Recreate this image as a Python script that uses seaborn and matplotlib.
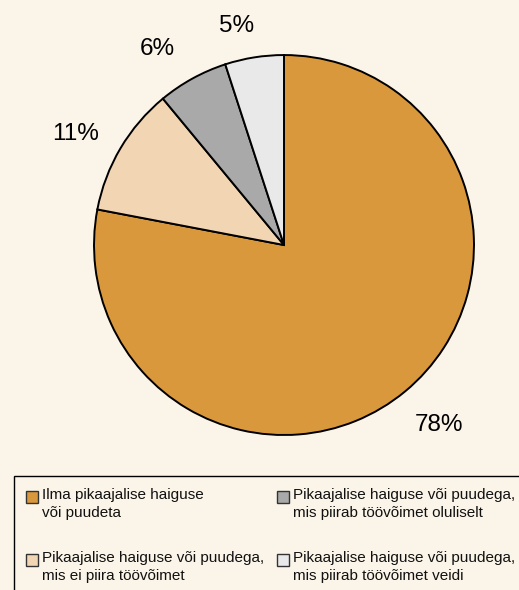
import numpy as np
import matplotlib.pyplot as plt
import matplotlib.patches as mpatches
import seaborn as sns

# shares in percent, clockwise from the top
categories = [
    "Ilma pikaajalise haiguse\nvõi puudeta",
    "Pikaajalise haiguse või puudega,\nmis ei piira töövõimet",
    "Pikaajalise haiguse või puudega,\nmis piirab töövõimet oluliselt",
    "Pikaajalise haiguse või puudega,\nmis piirab töövõimet veidi",
]
shares = [78, 11, 6, 5]
colors = ["#da983c", "#f2d5b2", "#a9a9a9", "#e9e9e9"]
bg = "#fbf4e8"

sns.set_theme(style="white")
plt.rcParams["font.family"] = ["Liberation Sans", "DejaVu Sans"]

fig = plt.figure(figsize=(5.19, 5.90), dpi=100, facecolor=bg)
ax = fig.add_axes([0.1811, 0.2627, 0.7322, 0.644])
ax.set_facecolor(bg)

wedges, texts, autotexts = ax.pie(
    shares, colors=colors, startangle=90, counterclock=False,
    autopct="%.0f%%", pctdistance=1.24,
    wedgeprops=dict(edgecolor="black", linewidth=1.4),
    textprops=dict(fontsize=17.5, color="black"),
)
# nudge the percentage labels (distance in radii, angle in degrees)
label_dist = [1.24, 1.25, 1.24, 1.19]
label_turn = [1.5, 2.0, 3.8, 3.0]
for w, t, d, a in zip(wedges, autotexts, label_dist, label_turn):
    ang = np.deg2rad((w.theta1 + w.theta2) / 2 + a)
    t.set_position((d * np.cos(ang), d * np.sin(ang)))
    t.set_va("center_baseline")

ax.set_xlim(-1, 1)
ax.set_ylim(-1, 1)
ax.set_aspect("equal")

# legend box, runs off the right and bottom edge
box = mpatches.Rectangle((14 / 519, -0.05), 1.0, (590 - 476) / 590 + 0.05,
                         transform=fig.transFigure, facecolor="none",
                         edgecolor="black", linewidth=1.0)
fig.add_artist(box)

# legend entries laid out in two columns
cols_x = [26, 277]
rows_y = [490, 553]
for i, (lab, col) in enumerate(zip(categories, colors)):
    cx = cols_x[i // 2]
    ry = rows_y[i % 2]
    sq = mpatches.Rectangle((cx / 519, 1 - (ry + 13) / 590), 12 / 519, 12 / 590,
                            transform=fig.transFigure, facecolor=col,
                            edgecolor="#333333", linewidth=1.0)
    fig.add_artist(sq)
    fig.text((cx + 16) / 519, 1 - (ry - 2) / 590, lab, fontsize=11,
             va="top", ha="left", linespacing=1.38, color="#111111")

fig.savefig("out.png", dpi=100, facecolor=bg)
